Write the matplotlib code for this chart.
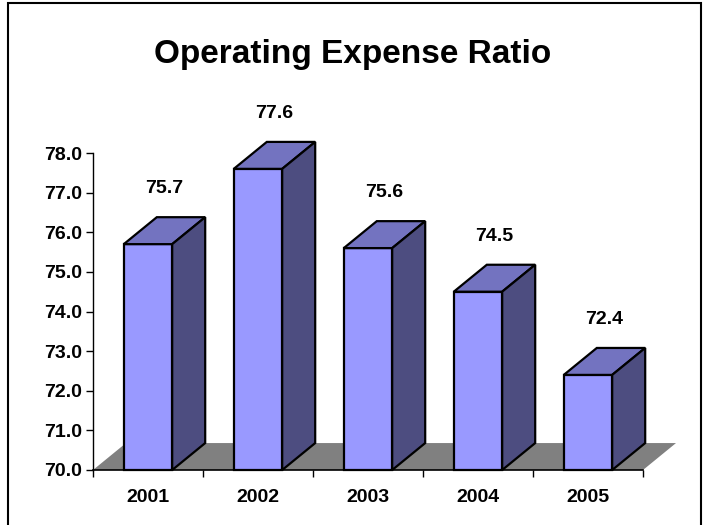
import matplotlib.pyplot as plt
from matplotlib.patches import Polygon, Rectangle

plt.rcParams['font.family'] = ['Liberation Sans', 'DejaVu Sans']

# data
years = ['2001', '2002', '2003', '2004', '2005']
ratio = [75.7, 77.6, 75.6, 74.5, 72.4]
y_ticks = [70.0, 71.0, 72.0, 73.0, 74.0, 75.0, 76.0, 77.0, 78.0]

front_c = '#9999FF'
top_c = '#7373C0'
side_c = '#4D4D80'
floor_c = '#808080'

fig = plt.figure(figsize=(7.08, 5.25), dpi=100)
W, H = 708, 525
ax = fig.add_axes([93 / W, (H - 470) / H, 550 / W, 317 / H])

base = 70.0
ax.set_xlim(-0.5, 4.5)
ax.set_ylim(base, 78.0)

bw = 0.44      # bar width (category units)
dx = 0.30      # depth offset in x
dy = 0.68      # depth offset in y

# floor
floor = Polygon([(-0.5, base), (4.5, base), (4.5 + dx, base + dy), (-0.5 + dx, base + dy)],
                closed=True, facecolor=floor_c, edgecolor='none', clip_on=False, zorder=1)
ax.add_patch(floor)

x = list(range(len(years)))
bars = ax.bar(x, [v - base for v in ratio], bottom=base, width=bw, color=front_c,
              edgecolor='black', linewidth=1.6, zorder=3)
for bar, v in zip(bars, ratio):
    x0 = bar.get_x()
    x1 = x0 + bar.get_width()
    top = Polygon([(x0, v), (x1, v), (x1 + dx, v + dy), (x0 + dx, v + dy)], closed=True,
                  facecolor=top_c, edgecolor='black', linewidth=1.6, clip_on=False, zorder=3)
    side = Polygon([(x1, base), (x1 + dx, base + dy), (x1 + dx, v + dy), (x1, v)], closed=True,
                   facecolor=side_c, edgecolor='black', linewidth=1.6, clip_on=False, zorder=3)
    ax.add_patch(top)
    ax.add_patch(side)
    bar.set_clip_on(False)
    ax.text(bar.get_x() + bar.get_width() / 2 + dx / 2, v + dy + 0.5, f'{v:.1f}',
            ha='center', va='bottom', fontsize=14, fontweight='bold', clip_on=False)

ax.set_xticks([i + 0.5 for i in range(-1, len(years))])
ax.set_xticklabels([])
ax.set_xticks(x, minor=True)
ax.set_xticklabels(years, minor=True, fontsize=14, fontweight='bold')
ax.tick_params(axis='x', which='minor', length=0, pad=14)
ax.tick_params(axis='x', which='major', length=5, width=1, direction='out', color='black')

ax.set_yticks(y_ticks)
ax.set_yticklabels([f'{t:.1f}' for t in y_ticks], fontsize=14, fontweight='bold')
ax.tick_params(axis='y', length=5, width=1, direction='out', pad=3)

for s in ['top', 'right']:
    ax.spines[s].set_visible(False)
ax.spines['left'].set_linewidth(1)
ax.spines['bottom'].set_linewidth(1.2)
ax.spines['bottom'].set_zorder(4)
ax.patch.set_visible(False)

fig.text(353 / W, 1 - 55 / H, 'Operating Expense Ratio', ha='center', va='center',
         fontsize=24, fontweight='bold')

# border
fig.patches.append(Rectangle((8 / W, -0.05), (701 - 8) / W, 1.05 - 3 / H,
                             transform=fig.transFigure, fill=False, edgecolor='black',
                             linewidth=1.5))

fig.savefig('out.png', dpi=100)
